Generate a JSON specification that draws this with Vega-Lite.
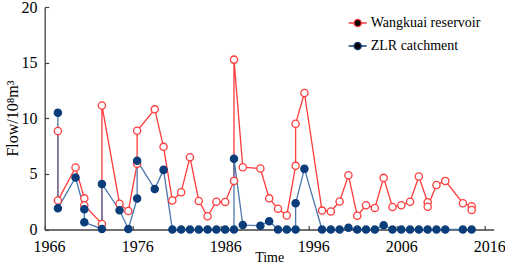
{
  "$schema": "https://vega.github.io/schema/vega-lite/v6.json",
  "autosize": {"type": "none"},
  "width": 449,
  "height": 222.5,
  "padding": {"left": 44.7, "top": 7, "right": 11.3, "bottom": 35.5},
  "background": "white",
  "config": {
    "view": {"stroke": null},
    "font": "Liberation Serif",
    "axis": {
      "grid": false,
      "domainColor": "#404040",
      "domainWidth": 1.3,
      "tickColor": "#404040",
      "tickWidth": 1.2,
      "tickSize": -4,
      "labelColor": "#000000",
      "labelFontSize": 16,
      "labelFont": "Liberation Serif",
      "titleFont": "Liberation Serif",
      "titleColor": "#000000",
      "titleFontWeight": "normal",
      "labelFlush": false,
      "labelOverlap": false,
      "labelBound": false
    },
    "legend": {
      "labelFont": "Liberation Serif",
      "labelFontSize": 14,
      "labelColor": "#000000"
    }
  },
  "data": {
    "values": [
      {"series": "Wangkuai reservoir", "i": 1, "year": 1967, "flow": 8.85},
      {"series": "Wangkuai reservoir", "i": 2, "year": 1967, "flow": 2.6},
      {"series": "Wangkuai reservoir", "i": 3, "year": 1969, "flow": 5.57},
      {"series": "Wangkuai reservoir", "i": 4, "year": 1970, "flow": 2.8},
      {"series": "Wangkuai reservoir", "i": 5, "year": 1970, "flow": 2.18},
      {"series": "Wangkuai reservoir", "i": 6, "year": 1972, "flow": 0.5},
      {"series": "Wangkuai reservoir", "i": 7, "year": 1972, "flow": 11.15},
      {"series": "Wangkuai reservoir", "i": 8, "year": 1974, "flow": 2.32},
      {"series": "Wangkuai reservoir", "i": 9, "year": 1975, "flow": 1.67},
      {"series": "Wangkuai reservoir", "i": 10, "year": 1976, "flow": 5.9},
      {"series": "Wangkuai reservoir", "i": 11, "year": 1976, "flow": 8.87},
      {"series": "Wangkuai reservoir", "i": 12, "year": 1978, "flow": 10.8},
      {"series": "Wangkuai reservoir", "i": 13, "year": 1979, "flow": 7.43},
      {"series": "Wangkuai reservoir", "i": 14, "year": 1980, "flow": 2.6},
      {"series": "Wangkuai reservoir", "i": 15, "year": 1981, "flow": 3.35},
      {"series": "Wangkuai reservoir", "i": 16, "year": 1982, "flow": 6.5},
      {"series": "Wangkuai reservoir", "i": 17, "year": 1983, "flow": 2.57},
      {"series": "Wangkuai reservoir", "i": 18, "year": 1984, "flow": 1.19},
      {"series": "Wangkuai reservoir", "i": 19, "year": 1985, "flow": 2.5},
      {"series": "Wangkuai reservoir", "i": 20, "year": 1986, "flow": 2.48},
      {"series": "Wangkuai reservoir", "i": 21, "year": 1987, "flow": 4.37},
      {"series": "Wangkuai reservoir", "i": 22, "year": 1987, "flow": 15.27},
      {"series": "Wangkuai reservoir", "i": 23, "year": 1988, "flow": 5.6},
      {"series": "Wangkuai reservoir", "i": 24, "year": 1990, "flow": 5.48},
      {"series": "Wangkuai reservoir", "i": 25, "year": 1991, "flow": 2.8},
      {"series": "Wangkuai reservoir", "i": 26, "year": 1992, "flow": 1.87},
      {"series": "Wangkuai reservoir", "i": 27, "year": 1993, "flow": 1.26},
      {"series": "Wangkuai reservoir", "i": 28, "year": 1994, "flow": 5.72},
      {"series": "Wangkuai reservoir", "i": 29, "year": 1994, "flow": 9.5},
      {"series": "Wangkuai reservoir", "i": 30, "year": 1995, "flow": 12.27},
      {"series": "Wangkuai reservoir", "i": 31, "year": 1997, "flow": 1.7},
      {"series": "Wangkuai reservoir", "i": 32, "year": 1998, "flow": 1.62},
      {"series": "Wangkuai reservoir", "i": 33, "year": 1999, "flow": 2.52},
      {"series": "Wangkuai reservoir", "i": 34, "year": 2000, "flow": 4.88},
      {"series": "Wangkuai reservoir", "i": 35, "year": 2001, "flow": 1.24},
      {"series": "Wangkuai reservoir", "i": 36, "year": 2002, "flow": 2.18},
      {"series": "Wangkuai reservoir", "i": 37, "year": 2003, "flow": 1.94},
      {"series": "Wangkuai reservoir", "i": 38, "year": 2004, "flow": 4.64},
      {"series": "Wangkuai reservoir", "i": 39, "year": 2005, "flow": 2.03},
      {"series": "Wangkuai reservoir", "i": 40, "year": 2006, "flow": 2.18},
      {"series": "Wangkuai reservoir", "i": 41, "year": 2007, "flow": 2.5},
      {"series": "Wangkuai reservoir", "i": 42, "year": 2008, "flow": 4.76},
      {"series": "Wangkuai reservoir", "i": 43, "year": 2009, "flow": 2.45},
      {"series": "Wangkuai reservoir", "i": 44, "year": 2009, "flow": 2.05},
      {"series": "Wangkuai reservoir", "i": 45, "year": 2010, "flow": 4.0},
      {"series": "Wangkuai reservoir", "i": 46, "year": 2011, "flow": 4.37},
      {"series": "Wangkuai reservoir", "i": 47, "year": 2013, "flow": 2.36},
      {"series": "Wangkuai reservoir", "i": 48, "year": 2014, "flow": 2.09},
      {"series": "Wangkuai reservoir", "i": 49, "year": 2014, "flow": 1.76},
      {"series": "ZLR catchment", "i": 1, "year": 1967, "flow": 10.5},
      {"series": "ZLR catchment", "i": 2, "year": 1967, "flow": 1.9},
      {"series": "ZLR catchment", "i": 3, "year": 1969, "flow": 4.67},
      {"series": "ZLR catchment", "i": 4, "year": 1970, "flow": 1.82},
      {"series": "ZLR catchment", "i": 5, "year": 1970, "flow": 0.65},
      {"series": "ZLR catchment", "i": 6, "year": 1972, "flow": 0.05},
      {"series": "ZLR catchment", "i": 7, "year": 1972, "flow": 4.1},
      {"series": "ZLR catchment", "i": 8, "year": 1974, "flow": 1.73},
      {"series": "ZLR catchment", "i": 9, "year": 1975, "flow": 0.05},
      {"series": "ZLR catchment", "i": 10, "year": 1976, "flow": 2.78},
      {"series": "ZLR catchment", "i": 11, "year": 1976, "flow": 6.17},
      {"series": "ZLR catchment", "i": 12, "year": 1978, "flow": 3.65},
      {"series": "ZLR catchment", "i": 13, "year": 1979, "flow": 5.36},
      {"series": "ZLR catchment", "i": 14, "year": 1980, "flow": 0},
      {"series": "ZLR catchment", "i": 15, "year": 1981, "flow": 0},
      {"series": "ZLR catchment", "i": 16, "year": 1982, "flow": 0},
      {"series": "ZLR catchment", "i": 17, "year": 1983, "flow": 0},
      {"series": "ZLR catchment", "i": 18, "year": 1984, "flow": 0},
      {"series": "ZLR catchment", "i": 19, "year": 1985, "flow": 0},
      {"series": "ZLR catchment", "i": 20, "year": 1986, "flow": 0},
      {"series": "ZLR catchment", "i": 21, "year": 1987, "flow": 0},
      {"series": "ZLR catchment", "i": 22, "year": 1987, "flow": 6.35},
      {"series": "ZLR catchment", "i": 23, "year": 1988, "flow": 0.4},
      {"series": "ZLR catchment", "i": 24, "year": 1990, "flow": 0.34},
      {"series": "ZLR catchment", "i": 25, "year": 1991, "flow": 0.75},
      {"series": "ZLR catchment", "i": 26, "year": 1992, "flow": 0},
      {"series": "ZLR catchment", "i": 27, "year": 1993, "flow": 0},
      {"series": "ZLR catchment", "i": 28, "year": 1994, "flow": 0},
      {"series": "ZLR catchment", "i": 29, "year": 1994, "flow": 2.36},
      {"series": "ZLR catchment", "i": 30, "year": 1995, "flow": 5.45},
      {"series": "ZLR catchment", "i": 31, "year": 1997, "flow": 0},
      {"series": "ZLR catchment", "i": 32, "year": 1998, "flow": 0},
      {"series": "ZLR catchment", "i": 33, "year": 1999, "flow": 0},
      {"series": "ZLR catchment", "i": 34, "year": 2000, "flow": 0.16},
      {"series": "ZLR catchment", "i": 35, "year": 2001, "flow": 0},
      {"series": "ZLR catchment", "i": 36, "year": 2002, "flow": 0},
      {"series": "ZLR catchment", "i": 37, "year": 2003, "flow": 0},
      {"series": "ZLR catchment", "i": 38, "year": 2004, "flow": 0.38},
      {"series": "ZLR catchment", "i": 39, "year": 2005, "flow": 0},
      {"series": "ZLR catchment", "i": 40, "year": 2006, "flow": 0},
      {"series": "ZLR catchment", "i": 41, "year": 2007, "flow": 0},
      {"series": "ZLR catchment", "i": 42, "year": 2008, "flow": 0},
      {"series": "ZLR catchment", "i": 43, "year": 2009, "flow": 0},
      {"series": "ZLR catchment", "i": 44, "year": 2010, "flow": 0},
      {"series": "ZLR catchment", "i": 45, "year": 2011, "flow": 0},
      {"series": "ZLR catchment", "i": 46, "year": 2013, "flow": 0},
      {"series": "ZLR catchment", "i": 47, "year": 2014, "flow": 0}
    ]
  },
  "encoding": {
    "x": {
      "field": "year",
      "type": "quantitative",
      "scale": {"domain": [1965.5, 2016.5], "nice": false, "zero": false},
      "axis": {
        "values": [1966, 1976, 1986, 1996, 2006, 2016],
        "format": "d",
        "tickOffset": -4.4,
        "labelOffset": 4.4,
        "labelPadding": 13,
        "title": "Time",
        "titleFontSize": 14,
        "titleY": 32,
        "titleBaseline": "alphabetic"
      }
    },
    "y": {
      "field": "flow",
      "type": "quantitative",
      "scale": {"domain": [0, 20], "nice": false},
      "axis": {
        "values": [0, 5, 10, 15, 20],
        "labelPadding": 11.7,
        "title": "Flow/10⁸m³",
        "titleFontSize": 16,
        "titleX": -32,
        "titleY": 111,
        "titleBaseline": "middle",
        "titleAlign": "center",
        "titleAngle": -90
      }
    }
  },
  "layer": [
    {
      "mark": {"type": "line", "strokeWidth": 1.3},
      "encoding": {
        "color": {
          "field": "series",
          "type": "nominal",
          "scale": {"range": ["#ff3b3b", "#4a78ad"]},
          "legend": null
        },
        "order": {"field": "i", "type": "quantitative"}
      }
    },
    {
      "mark": {"type": "point", "size": 52, "strokeWidth": 1.3, "opacity": 1},
      "encoding": {
        "fill": {
          "field": "series",
          "type": "nominal",
          "scale": {"range": ["#ffffff", "#0b3d7a"]},
          "legend": null
        },
        "stroke": {
          "field": "series",
          "type": "nominal",
          "scale": {"domain": ["Wangkuai reservoir", "ZLR catchment"], "range": ["#ff3b3b", "#0b3d7a"]},
          "legend": {
            "title": null,
            "orient": "none",
            "legendX": 303,
            "legendY": 6,
            "labelFont": "Liberation Serif",
            "labelFontSize": 14,
            "labelColor": "#000000",
            "symbolType": "M-1,0L-0.4,0M0.4,0L1,0M-0.4,0A0.4,0.4,0,1,0,0.4,0A0.4,0.4,0,1,0,-0.4,0",
            "symbolSize": 324,
            "symbolStrokeWidth": 1.3,
            "labelOffset": 3,
            "rowPadding": 6,
            "encode": {
              "symbols": {
                "update": {
                  "fill": {"signal": "datum.value === 'ZLR catchment' ? '#0b3d7a' : '#ffffff'"},
                  "stroke": {"signal": "datum.value === 'ZLR catchment' ? '#0b3d7a' : '#ff3b3b'"},
                  "fillOpacity": {"value": 1}
                }
              },
              "labels": {
                "update": {
                  "font": {"value": "Liberation Serif"},
                  "fontSize": {"value": 14},
                  "fill": {"value": "#000000"}
                }
              }
            }
          }
        }
      }
    }
  ]
}
